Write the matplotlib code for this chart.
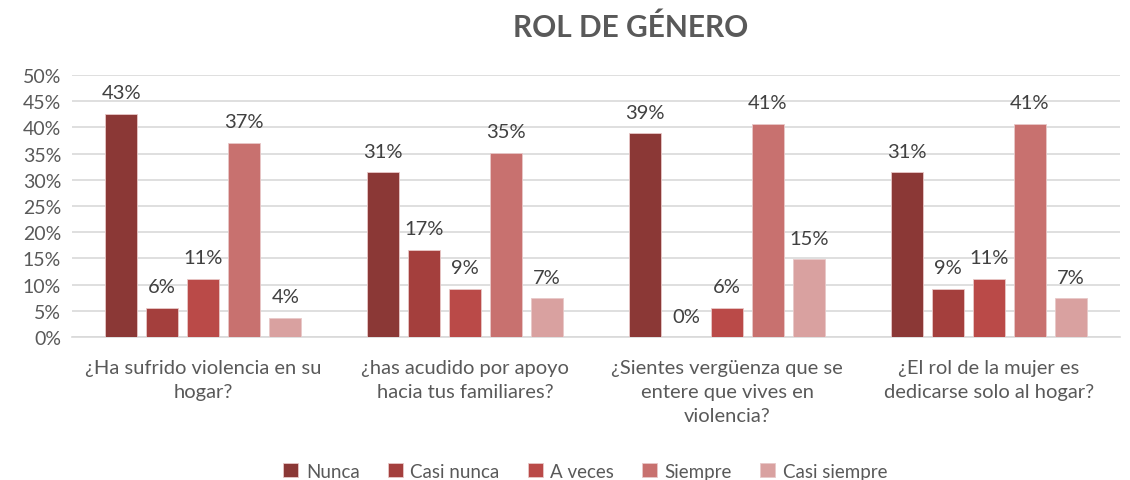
"""
Grouped bar chart - Rol de genero
"""
import numpy as np
import matplotlib.pyplot as plt

plt.rcParams['font.family'] = ['Lato', 'DejaVu Sans']

categories = [
    "¿Ha sufrido violencia en su\nhogar?",
    "¿has acudido por apoyo\nhacia tus familiares?",
    "¿Sientes vergüenza que se\nentere que vives en\nviolencia?",
    "¿El rol de la mujer es\ndedicarse solo al hogar?",
]
series = ["Nunca", "Casi nunca", "A veces", "Siempre", "Casi siempre"]
nunca = [42.59, 31.48, 38.89, 31.48]
casi_nunca = [5.56, 16.67, 0.0, 9.26]
a_veces = [11.11, 9.26, 5.56, 11.11]
siempre = [37.04, 35.19, 40.74, 40.74]
casi_siempre = [3.70, 7.41, 14.81, 7.41]

colors = ['#8B3836', '#A43F3D', '#BA4A48', '#C8716F', '#D9A1A0']
values = [nunca, casi_nunca, a_veces, siempre, casi_siempre]

fig = plt.figure(figsize=(11.3, 4.81), dpi=100)
ax = fig.add_axes([0.064, 0.297, 0.927, 0.545])

x = np.arange(len(categories))
step = 0.1565
width = 0.122
for i, (name, vals, col) in enumerate(zip(series, values, colors)):
    pos = x + (i - 2) * step
    ax.bar(pos, vals, width=width, color=col, edgecolor='#E8C8C8',
           linewidth=0.6, label=name, zorder=3)
    for px, v in zip(pos, vals):
        ax.annotate(f"{v:.0f}%", (px, v), xytext=(0, 9),
                    textcoords='offset points', ha='center', va='bottom',
                    fontsize=14.5, color='#404040')

ax.set_xlim(-0.5, 3.5)
ax.set_ylim(0, 50)
ax.set_yticks(range(0, 51, 5))
ax.set_yticklabels([f"{t}%" for t in range(0, 51, 5)])
ax.yaxis.grid(True, color='#D9D9D9', linewidth=1.2, zorder=0)
ax.set_xticks(x)
ax.set_xticklabels(categories, fontsize=14.5, color='#595959', linespacing=1.5)
ax.tick_params(axis='y', length=0, labelsize=14, labelcolor='#595959', pad=8)
ax.tick_params(axis='x', length=0, pad=16)
for s in ['top', 'right', 'left']:
    ax.spines[s].set_visible(False)
ax.spines['bottom'].set_color('#D9D9D9')
ax.spines['bottom'].set_linewidth(1.2)

fig.text(0.558, 0.942, "ROL DE GÉNERO", ha='center', va='center',
         fontsize=21.5, fontweight='bold', color='#595959')

fig.legend(loc='center', bbox_to_anchor=(0.518, 0.018), ncol=5, frameon=False,
           fontsize=13.5, handlelength=0.8, handleheight=0.8,
           handletextpad=0.4, columnspacing=1.5, labelcolor='#595959')

fig.savefig("out.png", dpi=100)
